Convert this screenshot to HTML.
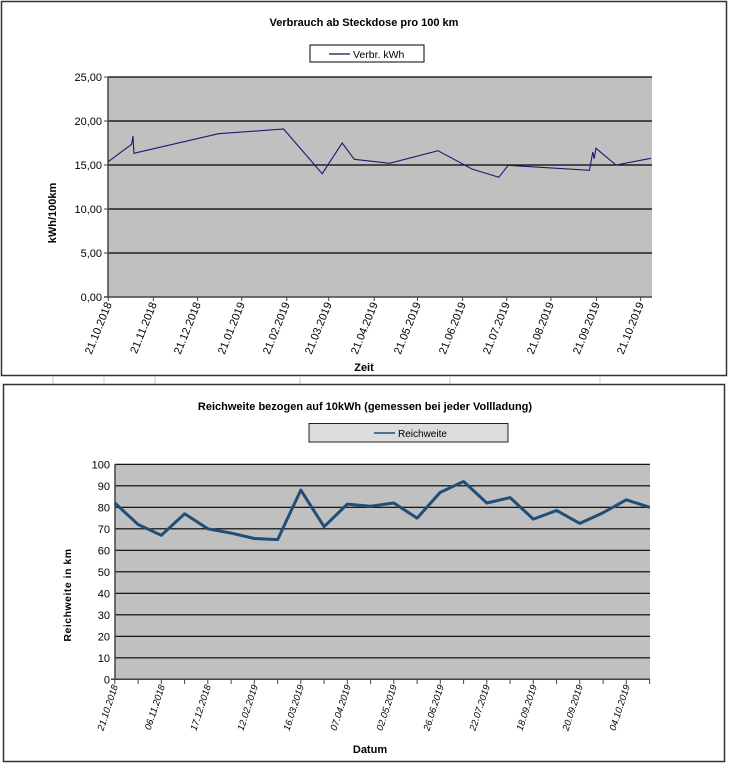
<!DOCTYPE html>
<html><head><meta charset="utf-8"><style>
html,body{margin:0;padding:0;background:#fff;}
svg{display:block;font-family:"Liberation Sans",Arial,sans-serif;}
</style></head><body>
<svg width="729" height="765" viewBox="0 0 729 765" xmlns="http://www.w3.org/2000/svg">
<rect width="729" height="765" fill="#fff"/>
<!-- spreadsheet gap grid -->
<g stroke="#c8c8c8" stroke-width="1">
<line x1="53" y1="377" x2="53" y2="384"/><line x1="104" y1="377" x2="104" y2="384"/><line x1="155" y1="377" x2="155" y2="384"/>
<line x1="300" y1="377" x2="300" y2="384"/><line x1="450" y1="377" x2="450" y2="384"/><line x1="600" y1="377" x2="600" y2="384"/>
</g>
<!-- Chart 1 frame -->
<rect x="1.5" y="1.5" width="725" height="374" fill="#fff" stroke="#333" stroke-width="1.5"/>
<text x="364" y="26" font-size="11" font-weight="bold" text-anchor="middle">Verbrauch ab Steckdose pro 100 km</text>
<rect x="310" y="45" width="114" height="17" fill="#fff" stroke="#000" stroke-width="1"/>
<line x1="329" y1="54" x2="350" y2="54" stroke="#6a6a9a" stroke-width="2"/>
<text x="353" y="58" font-size="10.5">Verbr. kWh</text>
<rect x="108" y="77" width="544" height="220" fill="#c0c0c0"/>
<g stroke="#000" stroke-width="1.2">
<line x1="108" y1="77" x2="652" y2="77"/><line x1="108" y1="121" x2="652" y2="121"/><line x1="108" y1="165" x2="652" y2="165"/><line x1="108" y1="209" x2="652" y2="209"/><line x1="108" y1="253" x2="652" y2="253"/>
</g>
<line x1="108" y1="77" x2="108" y2="297" stroke="#444" stroke-width="1.5"/>
<line x1="104" y1="297" x2="652" y2="297" stroke="#444" stroke-width="1.5"/>
<g stroke="#444" stroke-width="1"><line x1="104" y1="77" x2="108" y2="77"/><line x1="104" y1="121" x2="108" y2="121"/><line x1="104" y1="165" x2="108" y2="165"/><line x1="104" y1="209" x2="108" y2="209"/><line x1="104" y1="253" x2="108" y2="253"/></g>
<g font-size="11" text-anchor="end">
<text x="102" y="81">25,00</text><text x="102" y="125">20,00</text><text x="102" y="169">15,00</text><text x="102" y="213">10,00</text><text x="102" y="257">5,00</text><text x="102" y="301">0,00</text>
</g>
<g stroke="#444" stroke-width="1">
<line x1="108.3" y1="297" x2="108.3" y2="301"/><line x1="153.4" y1="297" x2="153.4" y2="301"/><line x1="197.6" y1="297" x2="197.6" y2="301"/><line x1="241.7" y1="297" x2="241.7" y2="301"/><line x1="286.8" y1="297" x2="286.8" y2="301"/><line x1="328.7" y1="297" x2="328.7" y2="301"/><line x1="374.2" y1="297" x2="374.2" y2="301"/><line x1="417.5" y1="297" x2="417.5" y2="301"/><line x1="462.6" y1="297" x2="462.6" y2="301"/><line x1="506.7" y1="297" x2="506.7" y2="301"/><line x1="550.9" y1="297" x2="550.9" y2="301"/><line x1="596.5" y1="297" x2="596.5" y2="301"/><line x1="640.6" y1="297" x2="640.6" y2="301"/>
</g>
<g font-size="11" text-anchor="end">
<text transform="translate(112,304) rotate(-68)">21.10.2018</text>
<text transform="translate(157,304) rotate(-68)">21.11.2018</text>
<text transform="translate(201,304) rotate(-68)">21.12.2018</text>
<text transform="translate(245,304) rotate(-68)">21.01.2019</text>
<text transform="translate(290,304) rotate(-68)">21.02.2019</text>
<text transform="translate(332,304) rotate(-68)">21.03.2019</text>
<text transform="translate(378,304) rotate(-68)">21.04.2019</text>
<text transform="translate(421,304) rotate(-68)">21.05.2019</text>
<text transform="translate(466,304) rotate(-68)">21.06.2019</text>
<text transform="translate(510,304) rotate(-68)">21.07.2019</text>
<text transform="translate(554,304) rotate(-68)">21.08.2019</text>
<text transform="translate(600,304) rotate(-68)">21.09.2019</text>
<text transform="translate(644,304) rotate(-68)">21.10.2019</text>
</g>
<text transform="translate(56,213) rotate(-90)" font-size="11" font-weight="bold" text-anchor="middle">kWh/100km</text>
<text x="364" y="371" font-size="11" font-weight="bold" text-anchor="middle">Zeit</text>
<polyline fill="none" stroke="#1a1a70" stroke-width="1.1" points="108.3,161.7 131.6,144.3 133,136 133.9,153.3 218.5,133.7 283.6,129 322.2,173.7 342.2,143 354.3,159.3 389.6,163.3 438,150.7 471.9,169 498.8,177.3 508.2,165.3 589.5,170.3 592.8,152 594.2,158.7 596,148.3 616,165 651,158.3"/>

<!-- Chart 2 frame -->
<rect x="3.5" y="384.5" width="721" height="377" fill="#fff" stroke="#333" stroke-width="1.5"/>
<text x="365" y="410" font-size="11" font-weight="bold" text-anchor="middle">Reichweite bezogen auf 10kWh (gemessen bei jeder Vollladung)</text>
<rect x="309" y="423.5" width="199" height="18.5" fill="#dcdcdc" stroke="#222" stroke-width="1"/>
<line x1="374" y1="433" x2="395" y2="433" stroke="#1f4e79" stroke-width="1.5"/>
<text x="398" y="437" font-size="10">Reichweite</text>
<rect x="115" y="464.3" width="535" height="215" fill="#c0c0c0"/>
<g stroke="#000" stroke-width="1.2">
<line x1="115" y1="464.3" x2="650" y2="464.3"/><line x1="115" y1="485.8" x2="650" y2="485.8"/><line x1="115" y1="507.3" x2="650" y2="507.3"/><line x1="115" y1="528.8" x2="650" y2="528.8"/><line x1="115" y1="550.3" x2="650" y2="550.3"/><line x1="115" y1="571.8" x2="650" y2="571.8"/><line x1="115" y1="593.3" x2="650" y2="593.3"/><line x1="115" y1="614.8" x2="650" y2="614.8"/><line x1="115" y1="636.3" x2="650" y2="636.3"/><line x1="115" y1="657.8" x2="650" y2="657.8"/>
</g>
<line x1="115" y1="464.3" x2="115" y2="679.3" stroke="#444" stroke-width="1.5"/>
<line x1="111" y1="679.3" x2="650" y2="679.3" stroke="#444" stroke-width="1.5"/>
<g font-size="11" text-anchor="end">
<text x="110" y="468.3">100</text><text x="110" y="489.8">90</text><text x="110" y="511.3">80</text><text x="110" y="532.8">70</text><text x="110" y="554.3">60</text><text x="110" y="575.8">50</text><text x="110" y="597.3">40</text><text x="110" y="618.8">30</text><text x="110" y="640.3">20</text><text x="110" y="661.8">10</text><text x="110" y="683.3">0</text>
</g>
<g stroke="#444" stroke-width="1" id="t2">
<line x1="114.8" y1="679" x2="114.8" y2="684"/><line x1="138.1" y1="679" x2="138.1" y2="684"/><line x1="161.3" y1="679" x2="161.3" y2="684"/><line x1="184.6" y1="679" x2="184.6" y2="684"/><line x1="207.8" y1="679" x2="207.8" y2="684"/><line x1="231.1" y1="679" x2="231.1" y2="684"/><line x1="254.3" y1="679" x2="254.3" y2="684"/><line x1="277.6" y1="679" x2="277.6" y2="684"/><line x1="300.8" y1="679" x2="300.8" y2="684"/><line x1="324.1" y1="679" x2="324.1" y2="684"/><line x1="347.3" y1="679" x2="347.3" y2="684"/><line x1="370.6" y1="679" x2="370.6" y2="684"/><line x1="393.8" y1="679" x2="393.8" y2="684"/><line x1="417.1" y1="679" x2="417.1" y2="684"/><line x1="440.3" y1="679" x2="440.3" y2="684"/><line x1="463.6" y1="679" x2="463.6" y2="684"/><line x1="486.8" y1="679" x2="486.8" y2="684"/><line x1="510.1" y1="679" x2="510.1" y2="684"/><line x1="533.3" y1="679" x2="533.3" y2="684"/><line x1="556.6" y1="679" x2="556.6" y2="684"/><line x1="579.8" y1="679" x2="579.8" y2="684"/><line x1="603.1" y1="679" x2="603.1" y2="684"/><line x1="626.3" y1="679" x2="626.3" y2="684"/><line x1="649.6" y1="679" x2="649.6" y2="684"/>
</g>
<g font-size="9.5" text-anchor="end" font-style="italic">
<text transform="translate(118,686) rotate(-72)">21.10.2018</text>
<text transform="translate(165,686) rotate(-72)">06.11.2018</text>
<text transform="translate(211,686) rotate(-72)">17.12.2018</text>
<text transform="translate(258,686) rotate(-72)">12.02.2019</text>
<text transform="translate(304,686) rotate(-72)">16.03.2019</text>
<text transform="translate(351,686) rotate(-72)">07.04.2019</text>
<text transform="translate(397,686) rotate(-72)">02.05.2019</text>
<text transform="translate(444,686) rotate(-72)">26.06.2019</text>
<text transform="translate(490,686) rotate(-72)">22.07.2019</text>
<text transform="translate(537,686) rotate(-72)">18.09.2019</text>
<text transform="translate(583,686) rotate(-72)">20.09.2019</text>
<text transform="translate(630,686) rotate(-72)">04.10.2019</text>
</g>
<text transform="translate(71,595) rotate(-90)" font-size="10.5" font-weight="bold" text-anchor="middle" letter-spacing="0.5">Reichweite in km</text>
<text x="370" y="753" font-size="11" font-weight="bold" text-anchor="middle">Datum</text>
<polyline fill="none" stroke="#1f4e79" stroke-width="3" stroke-linejoin="round" points="114.8,503 138.1,524.5 161.3,535.3 184.6,513.8 207.8,528.8 231.1,533.1 254.3,538.5 277.6,539.6 300.8,490.1 324.1,526.7 347.3,504.1 370.6,506.2 393.8,503 417.1,518.1 440.3,492.3 463.6,481.5 486.8,503 510.1,497.6 533.3,519.1 556.6,510.5 579.8,523.4 603.1,512.7 626.3,499.8 649.6,507.3"/>
</svg>
</body></html>
